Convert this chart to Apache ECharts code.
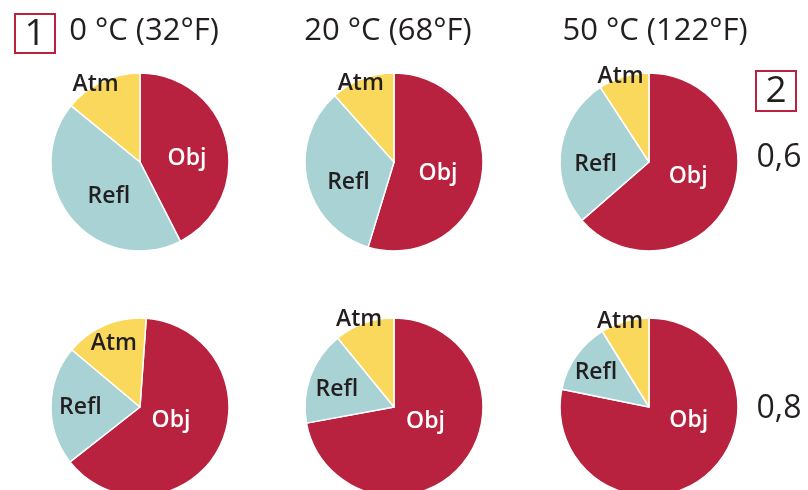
<!DOCTYPE html>
<html>
<head>
<meta charset="utf-8">
<script src="https://cdn.jsdelivr.net/npm/echarts@6/dist/echarts.min.js"></script>
<style>
html, body { margin: 0; padding: 0; background: #ffffff; }
#chart { width: 808px; height: 490px; }
</style>
</head>
<body>
<div id="chart"></div>
<script>
// ---- data ----
const temperatures = ['0 °C (32°F)', '20 °C (68°F)', '50 °C (122°F)'];
const emissivities = ['0,6', '0,8'];
const categories = ['Obj', 'Refl', 'Atm'];
// emissivity 0,6 (top row), per temperature
const obj06  = [42.5, 54.7, 63.6];
const refl06 = [43.4, 33.7, 27.2];
const atm06  = [14.1, 11.6, 9.2];
// emissivity 0,8 (bottom row), per temperature
const obj08  = [63.3, 72.1, 78.2];
const refl08 = [21.7, 17.0, 13.0];
const atm08  = [15.0, 10.9, 8.8];
const panelNumbers = ['1', '2'];

// ---- style / layout ----
const FONT = '"Open Sans", "Noto Sans", sans-serif';
const colors = { Obj: '#B8223F', Refl: '#A9D2D5', Atm: '#FAD85C' };
const labelColors = { Obj: '#ffffff', Refl: '#231F20', Atm: '#231F20' };
const colX = [140, 394, 649];
const rowY = [162, 407];
const R = 89;
const startAngles = [[90, 90, 90], [86, 90, 90]];
// label placement: [angle clockwise from 12 o'clock (deg), radius fraction] for Obj, Refl, Atm
const labelPlace = [
  [ [[85.5, 0.53], [222.3, 0.52], [330.1, 1.00]],
    [[104.3, 0.51], [246.0, 0.56], [337.1, 0.96]],
    [[110.5, 0.47], [267.9, 0.60], [341.6, 1.01]] ],
  [ [[113.6, 0.38], [269.7, 0.67], [337.6, 0.77]],
    [[114.9, 0.39], [286.7, 0.67], [338.3, 1.06]],
    [[108.3, 0.47], [303.0, 0.71], [341.2, 1.01]] ]
];

const rows = [[obj06, refl06, atm06], [obj08, refl08, atm08]];
const series = [];
for (let r = 0; r < 2; r++) {
  for (let c = 0; c < 3; c++) {
    const vals = rows[r];
    const cx = colX[c], cy = rowY[r];
    const place = labelPlace[r][c];
    series.push({
      type: 'pie',
      center: [cx, cy],
      radius: R,
      startAngle: startAngles[r][c],
      clockwise: true,
      avoidLabelOverlap: false,
      silent: true,
      animation: false,
      itemStyle: { borderColor: '#ffffff', borderWidth: 1.5 },
      label: {
        show: true,
        position: 'inside',
        formatter: '{b}',
        fontFamily: FONT,
        fontWeight: 600,
        fontSize: 23
      },
      labelLine: { show: false },
      labelLayout: function (p) {
        const pl = place[p.dataIndex];
        const a = pl[0] * Math.PI / 180;
        return {
          x: cx + Math.sin(a) * pl[1] * R,
          y: cy - Math.cos(a) * pl[1] * R,
          align: 'center',
          verticalAlign: 'middle'
        };
      },
      data: categories.map(function (name, i) {
        return {
          name: name,
          value: vals[i][c],
          itemStyle: { color: colors[name] },
          label: { color: labelColors[name] }
        };
      })
    });
  }
}

const titleX = [144, 388, 655];
const graphic = [];
temperatures.forEach(function (t, i) {
  graphic.push({
    type: 'text', x: titleX[i], y: 31,
    style: { text: t, font: '31px ' + FONT, fill: '#231F20', textAlign: 'center', textVerticalAlign: 'middle' }
  });
});
// numbered boxes
graphic.push({ type: 'rect', shape: { x: 15, y: 14, width: 40, height: 39 },
  style: { fill: 'none', stroke: '#B8223F', lineWidth: 2 } });
graphic.push({ type: 'text', x: 35, y: 34,
  style: { text: panelNumbers[0], font: '37px ' + FONT, fill: '#231F20', textAlign: 'center', textVerticalAlign: 'middle' } });
graphic.push({ type: 'rect', shape: { x: 756, y: 71, width: 40, height: 40 },
  style: { fill: 'none', stroke: '#B8223F', lineWidth: 2 } });
graphic.push({ type: 'text', x: 776, y: 91,
  style: { text: panelNumbers[1], font: '37px ' + FONT, fill: '#231F20', textAlign: 'center', textVerticalAlign: 'middle' } });
// emissivity labels
const emisY = [158, 409];
emissivities.forEach(function (e, i) {
  graphic.push({ type: 'text', x: 779, y: emisY[i],
    style: { text: e, font: '32px ' + FONT, fill: '#231F20', textAlign: 'center', textVerticalAlign: 'middle' } });
});

const chart = echarts.init(document.getElementById('chart'), null, { renderer: 'canvas' });
chart.setOption({
  backgroundColor: '#ffffff',
  animation: false,
  series: series,
  graphic: graphic
});
</script>
</body>
</html>
